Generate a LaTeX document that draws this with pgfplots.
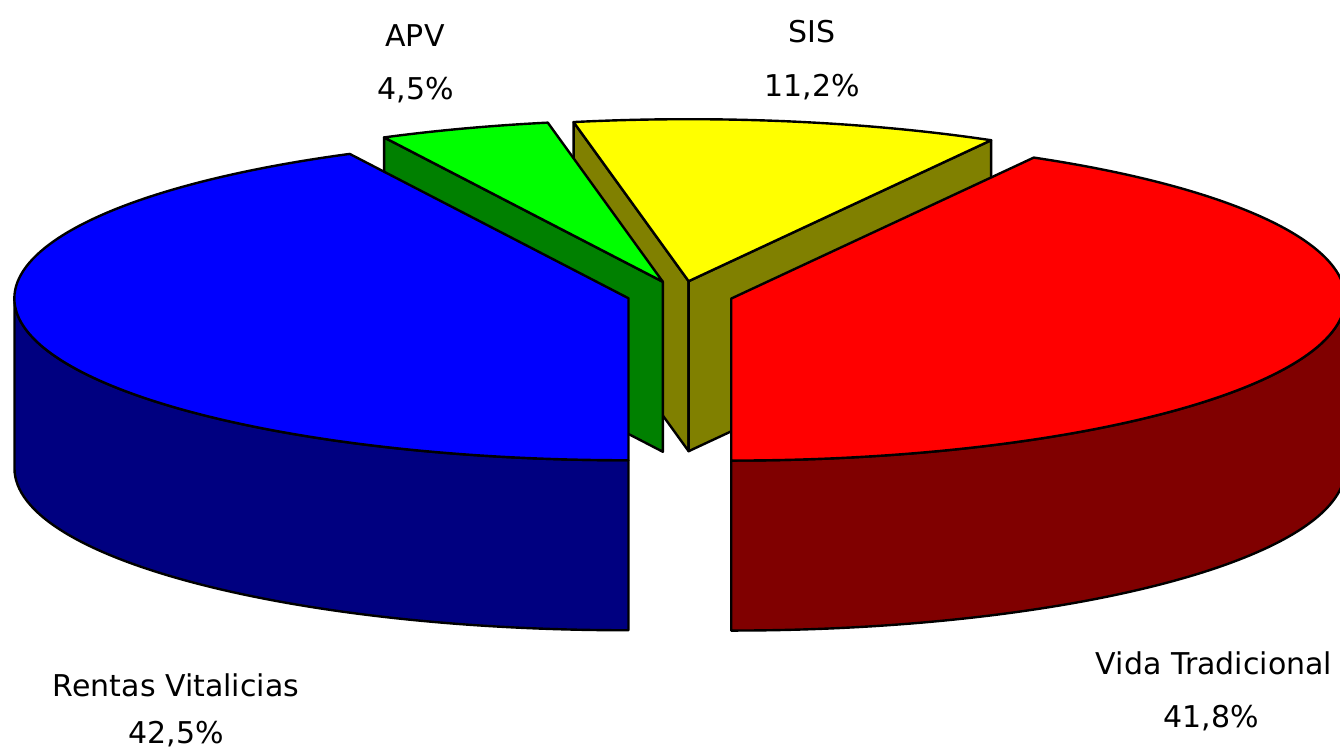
\documentclass[border=0pt]{standalone}
\usepackage{pgfplots}
\pgfplotsset{compat=1.18}
\usepackage{fontspec}
\setmainfont{DejaVu Sans}
\definecolor{cVT}{RGB}{255,0,0}
\definecolor{cVTs}{RGB}{128,0,0}
\definecolor{cSIS}{RGB}{255,255,0}
\definecolor{cSISs}{RGB}{128,128,0}
\definecolor{cAPV}{RGB}{0,255,0}
\definecolor{cAPVs}{RGB}{0,128,0}
\definecolor{cRV}{RGB}{0,0,255}
\definecolor{cRVs}{RGB}{0,0,128}
% geometry of the pie (axis units = pt)
\def\cx{680}\def\cy{457}\def\rx{614}\def\ry{162}\def\h{170}\def\d{53}
\newcommand\defpt[4]{% name, centre x, centre y, angle
  \expandafter\pgfmathsetmacro\csname #1x\endcsname{#2+\rx*cos(#4)}%
  \expandafter\pgfmathsetmacro\csname #1y\endcsname{#3+\ry*sin(#4)}%
  \expandafter\pgfmathsetmacro\csname #1b\endcsname{#3+\ry*sin(#4)-\h}}
\newcommand\centre[3]{% name, a1, a2
  \expandafter\pgfmathsetmacro\csname #1x\endcsname{\cx+\d*cos((#2+#3)/2)}%
  \expandafter\pgfmathsetmacro\csname #1y\endcsname{\cy+\d*\ry/\rx*sin((#2+#3)/2)}%
  \expandafter\pgfmathsetmacro\csname #1b\endcsname{\cy+\d*\ry/\rx*sin((#2+#3)/2)-\h}}
\newcommand\lab{\fontsize{30}{36}\selectfont}
\tikzset{pie/.style={draw=black,line width=2.4pt,line join=round}}
\begin{document}
\begin{tikzpicture}
% data: shares in percent
\def\pVT{41.8}\def\pSIS{11.2}\def\pAPV{4.5}\def\pRV{42.5}
\pgfmathsetmacro\aA{-90}
\pgfmathsetmacro\aB{\aA+3.6*\pVT}
\pgfmathsetmacro\aC{\aB+3.6*\pSIS}
\pgfmathsetmacro\aD{\aC+3.6*\pAPV}
\pgfmathsetmacro\aE{\aD+3.6*\pRV}
\centre{CV}{\aA}{\aB}
\centre{CS}{\aB}{\aC}
\centre{CA}{\aC}{\aD}
\centre{CR}{\aD}{\aE}
\defpt{VA}{\CVx}{\CVy}{\aA}
\defpt{VZ}{\CVx}{\CVy}{0}
\defpt{SB}{\CSx}{\CSy}{\aB}
\defpt{SC}{\CSx}{\CSy}{\aC}
\defpt{AD}{\CAx}{\CAy}{\aD}
\defpt{RD}{\CRx}{\CRy}{\aD}
\defpt{RL}{\CRx}{\CRy}{180}
\defpt{RF}{\CRx}{\CRy}{270}
\begin{axis}[x=1pt,y=1pt,xmin=0,xmax=1340,ymin=0,ymax=752,hide axis,clip=false]
% SIS
\draw[pie,fill=cSISs] (axis cs:\CSx,\CSy) -- (axis cs:\SCx,\SCy) -- (axis cs:\SCx,\SCb) -- (axis cs:\CSx,\CSb) -- cycle;
\draw[pie,fill=cSISs] (axis cs:\CSx,\CSy) -- (axis cs:\SBx,\SBy) -- (axis cs:\SBx,\SBb) -- (axis cs:\CSx,\CSb) -- cycle;
\draw[pie,fill=cSIS] (axis cs:\CSx,\CSy) -- (axis cs:\SBx,\SBy) arc[start angle=\aB,end angle=\aC,x radius=\rx pt,y radius=\ry pt] -- cycle;
% APV
\draw[pie,fill=cAPVs] (axis cs:\CAx,\CAy) -- (axis cs:\ADx,\ADy) -- (axis cs:\ADx,\ADb) -- (axis cs:\CAx,\CAb) -- cycle;
\draw[pie,fill=cAPV] (axis cs:\CAx,\CAy) -- (axis cs:\ADx,\ADy) arc[start angle=\aD,end angle=\aC,x radius=\rx pt,y radius=\ry pt] -- cycle;
% Vida Tradicional
\draw[pie,fill=cVTs] (axis cs:\VAx,\VAy) arc[start angle=-90,end angle=0,x radius=\rx pt,y radius=\ry pt] -- (axis cs:\VZx,\VZb) arc[start angle=0,end angle=-90,x radius=\rx pt,y radius=\ry pt] -- cycle;
\draw[pie,fill=cVT] (axis cs:\CVx,\CVy) -- (axis cs:\VAx,\VAy) arc[start angle=\aA,end angle=\aB,x radius=\rx pt,y radius=\ry pt] -- cycle;
% Rentas Vitalicias
\draw[pie,fill=cRVs] (axis cs:\RLx,\RLy) arc[start angle=180,end angle=270,x radius=\rx pt,y radius=\ry pt] -- (axis cs:\RFx,\RFb) arc[start angle=270,end angle=180,x radius=\rx pt,y radius=\ry pt] -- cycle;
\draw[pie,fill=cRV] (axis cs:\CRx,\CRy) -- (axis cs:\RDx,\RDy) arc[start angle=\aD,end angle=\aE,x radius=\rx pt,y radius=\ry pt] -- cycle;
% labels
\node[anchor=base,font=\lab] at (axis cs:176,56) {Rentas Vitalicias};
\node[anchor=base,font=\lab] at (axis cs:176,9) {42,5\%};
\node[anchor=base,font=\lab] at (axis cs:1214,77) {Vida Tradicional};
\node[anchor=base,font=\lab] at (axis cs:1211,25) {41,8\%};
\node[anchor=base,font=\lab] at (axis cs:415,705) {APV};
\node[anchor=base,font=\lab] at (axis cs:416,652) {4,5\%};
\node[anchor=base,font=\lab] at (axis cs:812,709) {SIS};
\node[anchor=base,font=\lab] at (axis cs:812,655) {11,2\%};
\end{axis}
\pgfresetboundingbox
\path[use as bounding box] (current axis.south west) rectangle (current axis.north east);
\end{tikzpicture}
\end{document}
